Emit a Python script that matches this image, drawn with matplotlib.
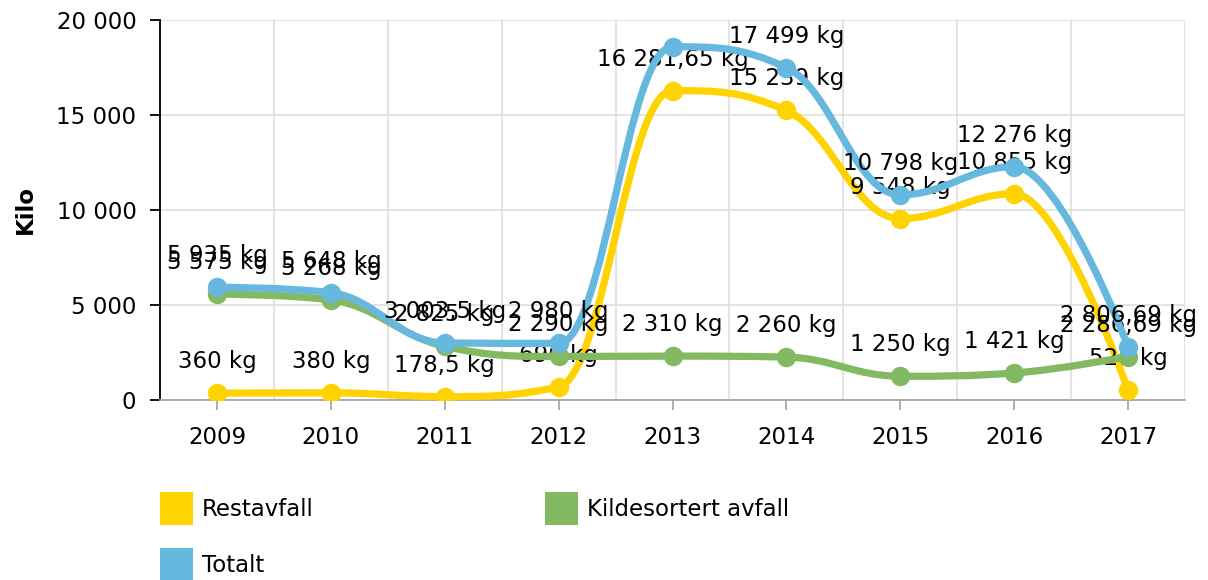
import numpy as np
import matplotlib
matplotlib.use("Agg")
import matplotlib.pyplot as plt
from matplotlib.path import Path
from matplotlib.patches import PathPatch, Rectangle
from matplotlib.ticker import FuncFormatter, FixedLocator

years = ["2009", "2010", "2011", "2012", "2013", "2014", "2015", "2016", "2017"]
restavfall = [360, 380, 178.5, 690, 16281.65, 15239, 9548, 10855, 520]
kildesortert = [5575, 5268, 2825, 2290, 2310, 2260, 1250, 1421, 2286.69]
totalt = [5935, 5648, 3003.5, 2980, 18591.65, 17499, 10798, 12276, 2806.69]

series_names = ["Restavfall", "Kildesortert avfall", "Totalt"]
series_values = [restavfall, kildesortert, totalt]
colors = ["#FFD300", "#84B963", "#67B8DE"]

plt.rcParams['font.family'] = ['DejaVu Sans']
FS = 16.5

W, H = 1208, 580
fig = plt.figure(figsize=(W / 100, H / 100), dpi=100)
L, R, T, B = 160, 1185, 20, 400
ax = fig.add_axes([L / W, 1 - B / H, (R - L) / W, (B - T) / H])

YMAX = 20000
ax.set_xlim(-0.5, len(years) - 0.5)
ax.set_ylim(0, YMAX)


def spline_path(xs, ys, smoothing=1.5):
    n = len(xs)
    denom = smoothing + 1
    rc = [None] * n
    lc = [None] * n
    verts = [(xs[0], ys[0])]
    codes = [Path.MOVETO]
    for i in range(n):
        if 0 < i < n - 1:
            px, py = xs[i], ys[i]
            lx, ly = xs[i - 1], ys[i - 1]
            nx, ny = xs[i + 1], ys[i + 1]
            lcx = (smoothing * px + lx) / denom
            lcy = (smoothing * py + ly) / denom
            rcx = (smoothing * px + nx) / denom
            rcy = (smoothing * py + ny) / denom
            corr = 0
            if rcx != lcx:
                corr = ((rcy - lcy) * (rcx - px)) / (rcx - lcx) + py - rcy
            lcy += corr
            rcy += corr
            if lcy > ly and lcy > py:
                lcy = max(ly, py); rcy = 2 * py - lcy
            elif lcy < ly and lcy < py:
                lcy = min(ly, py); rcy = 2 * py - lcy
            if rcy > ny and rcy > py:
                rcy = max(ny, py); lcy = 2 * py - rcy
            elif rcy < ny and rcy < py:
                rcy = min(ny, py); lcy = 2 * py - rcy
            lc[i] = (lcx, lcy)
            rc[i] = (rcx, rcy)
    for i in range(1, n):
        c1 = rc[i - 1] if rc[i - 1] is not None else (xs[i - 1], ys[i - 1])
        c2 = lc[i] if lc[i] is not None else (xs[i], ys[i])
        verts += [c1, c2, (xs[i], ys[i])]
        codes += [Path.CURVE4] * 3
    return Path(verts, codes)


def fmt_kg(v):
    s = f"{v:,.2f}".rstrip("0").rstrip(".")
    s = s.replace(",", " ").replace(".", ",")
    return s + " kg"


x = np.arange(len(years))
label_offset_pt = 18
for k, (vals, col) in enumerate(zip(series_values, colors)):
    z = 3 + 3 * k
    p = spline_path(list(x.astype(float)), list(map(float, vals)))
    ax.add_patch(PathPatch(p, facecolor="none", edgecolor=col, lw=5.2,
                           capstyle="round", joinstyle="round", zorder=z))
    ax.plot(x, vals, linestyle="none", marker="o", markersize=14,
            color=col, markeredgewidth=0, zorder=z + 0.5)
    for xi, v in zip(x, vals):
        # skip labels that would fall outside the plot top
        if v + 1650 > YMAX:
            continue
        ax.annotate(fmt_kg(v), (xi, v), xytext=(0, label_offset_pt),
                    textcoords="offset points", ha="center", va="baseline",
                    fontsize=FS, color="#000000", zorder=z + 1,
                    annotation_clip=False)

# axes styling
for s in ["top", "right"]:
    ax.spines[s].set_visible(False)
ax.spines["left"].set_color("#000000")
ax.spines["left"].set_linewidth(1.3)
ax.spines["bottom"].set_color("#a6a6a6")
ax.spines["bottom"].set_linewidth(1.3)

ax.set_xticks(x)
ax.set_xticklabels(years)
ax.xaxis.set_minor_locator(FixedLocator(np.arange(-0.5, len(years), 1.0)))
ax.tick_params(axis="x", which="major", length=7, width=1.3, color="#a6a6a6",
               labelsize=FS, pad=12)
ax.tick_params(axis="x", which="minor", length=0)
ax.grid(True, axis="x", which="minor", color="#dedede", lw=1.2)

ax.set_yticks([0, 5000, 10000, 15000, 20000])
ax.yaxis.set_major_formatter(FuncFormatter(lambda v, p: f"{int(v):,}".replace(",", " ")))
ax.tick_params(axis="y", length=7, width=1.3, color="#000000", labelsize=FS, pad=10)
ax.grid(True, axis="y", which="major", color="#dedede", lw=1.2)
ax.set_axisbelow(True)

fig.text(25 / W, 1 - 210 / H, "Kilo", rotation=90, ha="center", va="center",
         fontsize=FS, fontweight="bold")

# legend (manual, below the plot)
legend_pos = [(160, 492), (545, 492), (160, 548)]
for (lx, ly), name, col in zip(legend_pos, series_names, colors):
    fig.add_artist(Rectangle((lx / W, 1 - (ly + 33) / H), 33 / W, 33 / H,
                             transform=fig.transFigure, facecolor=col,
                             edgecolor="none"))
    fig.text((lx + 42) / W, 1 - (ly + 17) / H, name, ha="left", va="center",
             fontsize=FS)

fig.savefig("out.png", dpi=100)
